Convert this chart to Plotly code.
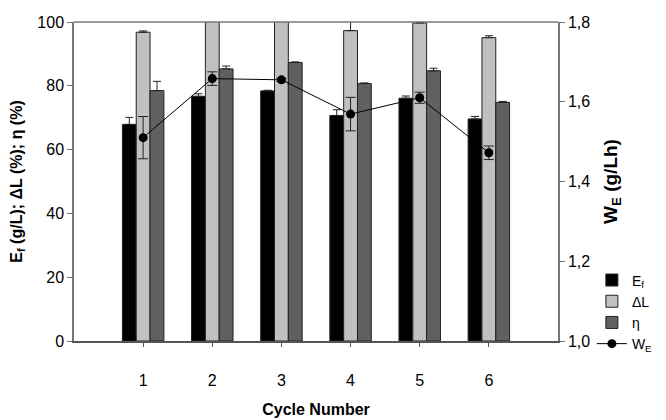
import plotly.graph_objects as go

cycles = [1, 2, 3, 4, 5, 6]
ef_vals = [67.9, 76.7, 78.4, 70.7, 76.1, 69.6]
ef_err = [2.2, 0.8, 0.2, 1.8, 0.7, 0.8]
dl_vals = [96.8, 102.0, 101.5, 97.3, 99.7, 95.1]
dl_err = [0.4, 0.5, 0.5, 3.5, 0.2, 0.6]
eta_vals = [78.5, 85.3, 87.3, 80.7, 84.7, 74.8]
eta_err = [2.9, 0.9, 0.2, 0.2, 0.8, 0.3]
we_vals = [1.510, 1.658, 1.655, 1.569, 1.610, 1.472]
we_err = [0.053, 0.017, 0.004, 0.042, 0.014, 0.017]

y2_ticks = [1.0, 1.2, 1.4, 1.6, 1.8]
y2_labels = ["1,0", "1,2", "1,4", "1,6", "1,8"]

font_family = "Liberation Sans, Arial, sans-serif"
line_col = "#222222"

def bar(name, vals, errs, color):
    return go.Bar(
        x=cycles, y=vals, name=name,
        marker=dict(color=color, line=dict(color=line_col, width=1)),
        error_y=dict(type="data", array=errs, arrayminus=[0] * len(errs),
                     symmetric=False, color=line_col, thickness=1, width=4),
    )

fig = go.Figure()
fig.add_trace(bar("E<sub>f</sub>", ef_vals, ef_err, "#000000"))
fig.add_trace(bar("ΔL", dl_vals, dl_err, "#c0c0c0"))
fig.add_trace(bar("η", eta_vals, eta_err, "#606060"))
fig.add_trace(go.Scatter(
    x=cycles, y=we_vals, name="W<sub>E</sub>", yaxis="y2",
    mode="lines+markers",
    line=dict(color="#000000", width=1),
    marker=dict(color="#000000", size=9),
    error_y=dict(type="data", array=we_err, color=line_col, thickness=1, width=5),
))

fig.update_layout(
    width=666, height=420,
    margin=dict(l=66, r=116, t=14, b=87),
    plot_bgcolor="white", paper_bgcolor="white",
    font=dict(family=font_family, size=15, color="#000000"),
    barmode="group", bargap=0.4, bargroupgap=0,
    showlegend=True,
    legend=dict(x=1.07, y=0.24, xanchor="left", yanchor="top",
                bgcolor="rgba(0,0,0,0)", font=dict(size=14),
                tracegroupgap=0, itemwidth=30),
    xaxis=dict(range=[0, 7], tickvals=cycles, ticktext=[str(c) for c in cycles],
               showgrid=False, zeroline=False, automargin=False,
               showline=True, linecolor="#555555", linewidth=1.5, mirror=False,
               ticks="outside", ticklen=4, tickcolor="#555555",
               ticklabelstandoff=20, tickfont=dict(size=16),
               title=dict(text="<b>Cycle Number</b>", font=dict(size=16), standoff=16)),
    yaxis=dict(range=[0, 100], tickvals=[0, 20, 40, 60, 80, 100],
               showgrid=False, zeroline=False, automargin=False,
               showline=True, linecolor="#777777", linewidth=1.5,
               ticks="outside", ticklen=5, tickcolor="#777777",
               tickfont=dict(size=16),
               title=dict(text="<b>E<sub>f</sub> (g/L); ΔL (%); η (%)</b>",
                          font=dict(size=16), standoff=18)),
    yaxis2=dict(range=[1.0, 1.8], tickvals=y2_ticks, ticktext=y2_labels,
                overlaying="y", side="right", anchor="x",
                showgrid=False, zeroline=False, automargin=False,
                showline=True, linecolor="#777777", linewidth=1.5,
                ticks="outside", ticklen=5, tickcolor="#777777",
                tickfont=dict(size=16),
                title=dict(text="<b>W<sub>E</sub> (g/Lh)</b>",
                           font=dict(size=19), standoff=14)),
)

# top border line
fig.add_shape(type="line", xref="paper", yref="paper", x0=0, x1=1, y0=1, y1=1,
              line=dict(color="#777777", width=1.5))

fig.write_html("out.html")
